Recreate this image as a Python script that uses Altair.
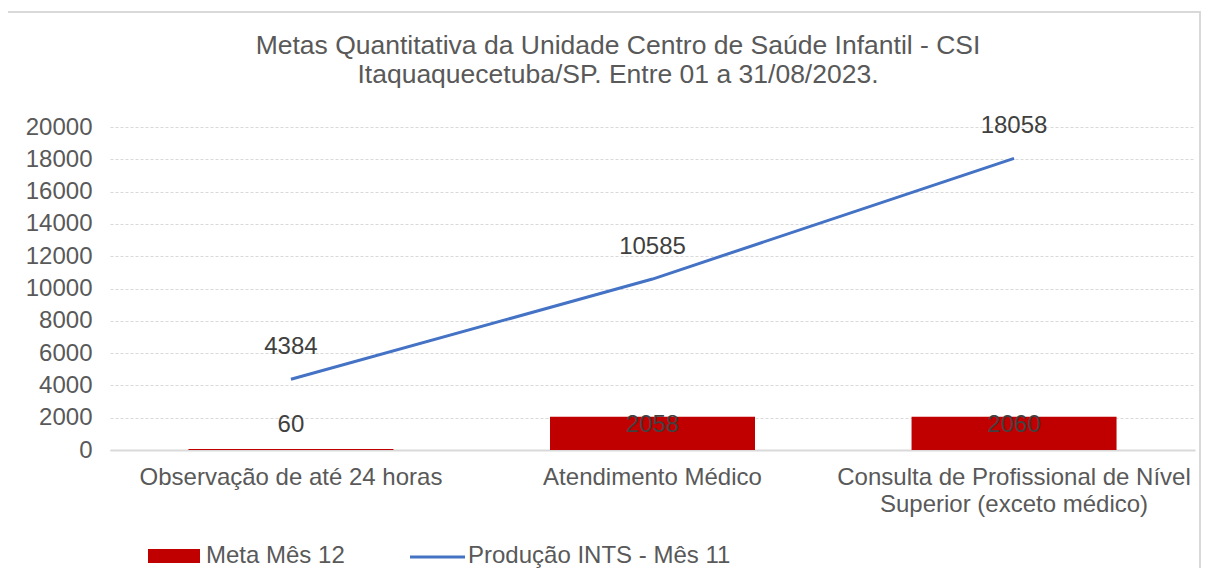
import altair as alt
import pandas as pd

categories = [
    "Observação de até 24 horas",
    "Atendimento Médico",
    "Consulta de Profissional de Nível Superior (exceto médico)",
]
meta_mes_12 = [60, 2058, 2060]
producao_mes_11 = [4384, 10585, 18058]
y_ticks = list(range(0, 20001, 2000))
legend_labels = ["Meta Mês 12", "Produção INTS - Mês 11"]
title_lines = [
    "Metas Quantitativa da Unidade Centro de Saúde Infantil - CSI",
    "Itaquaquecetuba/SP. Entre 01 a 31/08/2023.",
]

df = pd.DataFrame({"cat": categories, "meta": meta_mes_12, "prod": producao_mes_11})

FONT = "Liberation Sans"
TXT = "#595959"
LBL = "#404040"
RED = "#C00000"
BLUE = "#4472C4"
FS = 24

x_enc = alt.X(
    "cat:N",
    sort=categories,
    title=None,
    scale=alt.Scale(paddingInner=0.433, paddingOuter=0.217),
    axis=alt.Axis(
        labelAngle=0,
        labelFont=FONT,
        labelFontSize=FS,
        labelColor=TXT,
        labelPadding=15,
        labelLineHeight=27,
        labelLimit=600,
        ticks=False,
        domainColor="#D9D9D9",
        domainWidth=2,
        grid=False,
        labelExpr="datum.value == 'Consulta de Profissional de Nível Superior (exceto médico)' ? ['Consulta de Profissional de Nível', 'Superior (exceto médico)'] : datum.value",
    ),
)
y_scale = alt.Scale(domain=[0, 20000], nice=False)
y_axis = alt.Axis(
    values=y_ticks,
    tickCount=11,
    format="d",
    labelOverlap=False,
    labelFont=FONT,
    labelFontSize=FS,
    labelColor=TXT,
    labelPadding=18,
    ticks=False,
    domain=False,
    grid=True,
    gridColor="#D9D9D9",
    gridDash=[3, 2],
    gridWidth=1,
    title=None,
)


def y_enc(field):
    return alt.Y(field, scale=y_scale, axis=y_axis, title=None)


base = alt.Chart(df)

bars = base.mark_bar(color=RED).encode(x=x_enc, y=y_enc("meta:Q"))

bar_lbl_small = base.transform_filter(alt.datum.meta < 1000).mark_text(
    font=FONT, fontSize=FS, color=LBL, baseline="middle", dy=-24
).encode(x=x_enc, y=y_enc("meta:Q"), text="meta:Q")

bar_lbl_big = base.transform_filter(alt.datum.meta >= 1000).mark_text(
    font=FONT, fontSize=FS, color=LBL, baseline="middle", dy=8
).encode(x=x_enc, y=y_enc("meta:Q"), text="meta:Q")

line = base.mark_line(color=BLUE, strokeWidth=3).encode(
    x=x_enc, y=y_enc("prod:Q")
)

line_lbl = base.mark_text(
    font=FONT, fontSize=FS, color=LBL, baseline="middle", dy=-32
).encode(x=x_enc, y=y_enc("prod:Q"), text="prod:Q")

one = pd.DataFrame({"k": [0]})

border = alt.Chart(one).mark_rect(
    filled=False, stroke="#D9D9D9", strokeWidth=2
).encode(
    x=alt.value(-103), x2=alt.value(1090), y=alt.value(-115), y2=alt.value(700)
)

title1 = alt.Chart(one).mark_text(
    font=FONT, fontSize=26.5, color=TXT, align="center", baseline="middle"
).encode(x=alt.value(508), y=alt.value(-81), text=alt.value(title_lines[0]))
title2 = alt.Chart(one).mark_text(
    font=FONT, fontSize=26.5, color=TXT, align="center", baseline="middle"
).encode(x=alt.value(508), y=alt.value(-52), text=alt.value(title_lines[1]))

leg_rect = alt.Chart(one).mark_rect(color=RED).encode(
    x=alt.value(38), x2=alt.value(90), y=alt.value(422), y2=alt.value(436)
)
leg_txt1 = alt.Chart(one).mark_text(
    font=FONT, fontSize=FS, color=TXT, align="left", baseline="middle"
).encode(x=alt.value(96), y=alt.value(429), text=alt.value(legend_labels[0]))
leg_line = alt.Chart(one).mark_rule(color=BLUE, strokeWidth=3).encode(
    x=alt.value(300), x2=alt.value(355), y=alt.value(430)
)
leg_txt2 = alt.Chart(one).mark_text(
    font=FONT, fontSize=FS, color=TXT, align="left", baseline="middle"
).encode(x=alt.value(358), y=alt.value(429), text=alt.value(legend_labels[1]))

chart = alt.layer(
    border, title1, title2, bars, bar_lbl_small, bar_lbl_big, line, line_lbl,
    leg_rect, leg_txt1, leg_line, leg_txt2,
).properties(
    width=1085,
    height=323,
    autosize=alt.AutoSizeParams(type="none"),
    padding={"left": 102, "top": 119, "right": 6, "bottom": 118},
    view=alt.ViewBackground(strokeOpacity=0, strokeWidth=0),
).configure_view(stroke="transparent", strokeWidth=0, strokeOpacity=0).configure(background="white")

chart.save("out.html", embed_options={"renderer": "svg", "actions": False})
